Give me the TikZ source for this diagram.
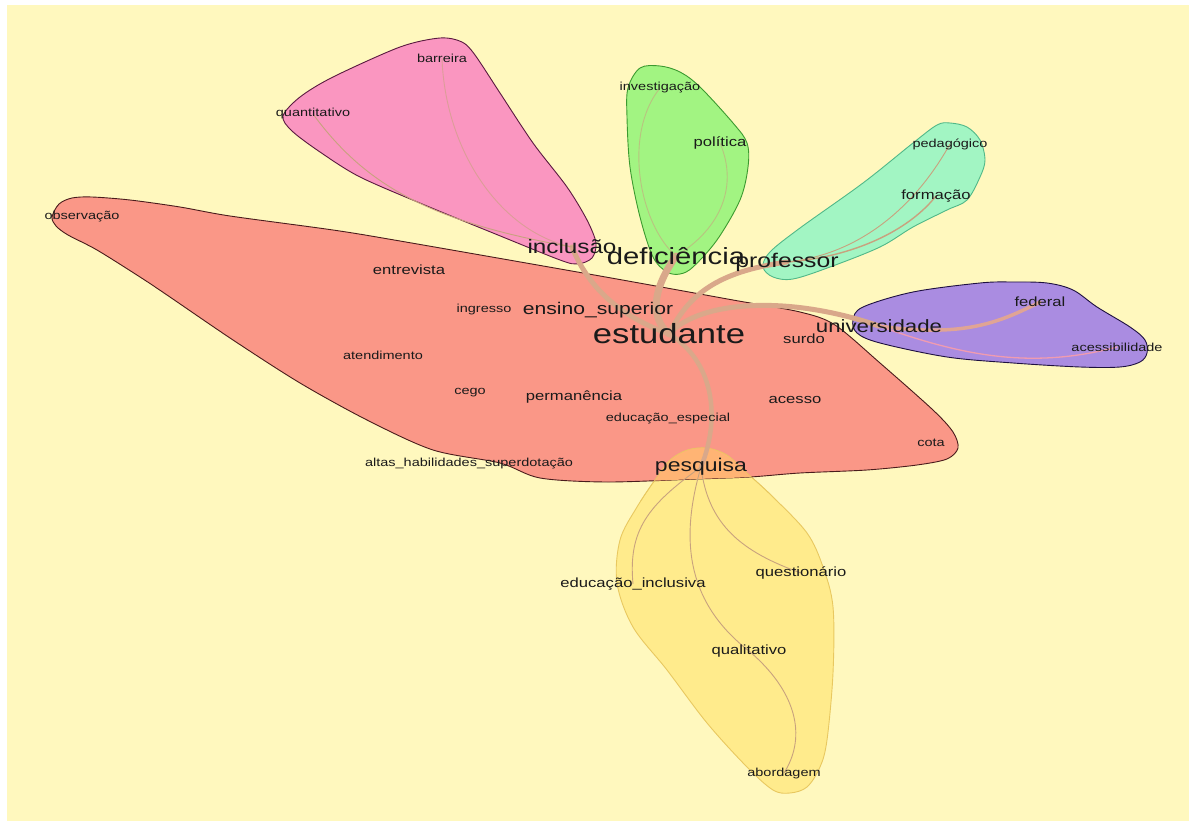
\documentclass[tikz,border=0pt]{standalone}
\usepackage{fontspec}
\setmainfont{Liberation Sans}[FakeStretch=1.25]
\definecolor{bgyel}{HTML}{FFF8BE}
\definecolor{redfill}{HTML}{FA9787}
\definecolor{redline}{HTML}{4A1C1C}
\definecolor{pinkfill}{HTML}{FA96C0}
\definecolor{pinkline}{HTML}{5A1A40}
\definecolor{greenfill}{HTML}{A2F482}
\definecolor{greenline}{HTML}{3C9A30}
\definecolor{mintfill}{HTML}{A2F5C3}
\definecolor{mintline}{HTML}{50B888}
\definecolor{purfill}{HTML}{AA8CE1}
\definecolor{purline}{HTML}{1E1040}
\definecolor{yelfill}{HTML}{FFEB8C}
\definecolor{yelline}{HTML}{E8C860}
\definecolor{orafill}{HTML}{FFB474}
\definecolor{edgetan}{HTML}{D9A88A}
\definecolor{thintan}{HTML}{C8A27E}
\definecolor{txt}{HTML}{1A1A1A}
\newcommand\myfs[1]{\fontsize{#1}{#1}\selectfont}
\pgfdeclarelayer{bg}
\pgfdeclarelayer{edges}
\pgfsetlayers{bg,edges,main}
\begin{document}
\begin{tikzpicture}[x=1pt,y=-1pt,
  lbl/.style={inner sep=0pt, text=txt},
  sa/.style={lbl, font=\myfs{11.6}},
  sb/.style={lbl, font=\myfs{13.3}},
  blob/.style={line width=0.9pt},
  thickedge/.style={draw=edgetan, line cap=round},
  thinedge/.style={draw=thintan, line width=0.9pt}]
\useasboundingbox (0,0) rectangle (1189,821);

% ---------------- labels
\node[sa] (observacao) at (82,217) {observação};
\node[sa] (quantitativo) at (313,114) {quantitativo};
\node[sa] (barreira) at (442,58) {barreira};
\node[sa] (investigacao) at (660,88) {investigação};
\node[sb] (politica) at (720,143) {política};
\node[sa] (pedagogico) at (950,144) {pedagógico};
\node[sb] (formacao) at (936,196) {formação};
\node[lbl, font=\myfs{19.4}] (inclusao) at (572,247) {inclusão};
\node[lbl, font=\myfs{23.4}] (deficiencia) at (676,256) {deficiência};
\node[lbl, font=\myfs{19.8}] (professor) at (787,262) {professor};
\node[sb] (entrevista) at (409,270) {entrevista};
\node[sa] (ingresso) at (484,310) {ingresso};
\node[lbl, font=\myfs{16.9}] (ensino) at (598,310) {ensino\_superior};
\node[lbl, font=\myfs{27.7}] (estudante) at (669,334) {estudante};
\node[lbl, font=\myfs{17.8}] (universidade) at (879,326) {universidade};
\node[sb] (federal) at (1040,302) {federal};
\node[sa] (acessibilidade) at (1117,347) {acessibilidade};
\node[sb] (surdo) at (804,339) {surdo};
\node[sa] (atendimento) at (383,355) {atendimento};
\node[sa] (cego) at (470,393) {cego};
\node[sb] (permanencia) at (574,397) {permanência};
\node[sb] (acesso) at (795,400) {acesso};
\node[sa] (educesp) at (668,419) {educação\_especial};
\node[sa] (cota) at (931,443) {cota};
\node[sa] (altas) at (469,464) {altas\_habilidades\_superdotação};
\node[lbl, font=\myfs{18.4}] (pesquisa) at (701,467) {pesquisa};
\node[sb] (educinc) at (633,584) {educação\_inclusiva};
\node[sb] (questionario) at (801,573) {questionário};
\node[sb] (qualitativo) at (749,651) {qualitativo};
\node[sa] (abordagem) at (784,773) {abordagem};

% ---------------- background and blobs
\begin{pgfonlayer}{bg}
\fill[white] (0,0) rectangle (1189,821);
\fill[bgyel] (7,5) rectangle (1189,821);
\path[save path=\redp] plot[smooth cycle, tension=0.5] coordinates {
 (52,217) (59,204) (72,198) (92,197) (130,200) (180,207) (230,216) (333,230) (400,241) (600,276)
 (733,300) (800,312) (835,325) (880,363) (933,410) (953,432) (958,448) (947,459)
 (917,465) (867,470) (800,473) (750,477) (697,479) (607,482) (540,478) (500,463)
 (433,450) (367,420) (300,383) (233,340) (167,295) (140,277) (97,250) (68,235) (56,226)};
\path[save path=\yelp] plot[smooth cycle, tension=0.55] coordinates {
 (687,450) (707,448) (727,455) (747,473) (773,497) (807,533) (823,567) (833,607)
 (833,673) (827,740) (820,767) (807,787) (790,793) (773,790) (747,767) (707,723)
 (667,670) (633,627) (617,583) (620,540) (637,507) (657,477) (670,460)};
\fill[yelfill, draw=yelline, blob, use path=\yelp];
\fill[redfill, draw=redline, blob, use path=\redp];
\begin{scope}
 \clip[use path=\redp];
 \fill[orafill, use path=\yelp];
\end{scope}
\begin{scope}
 \clip (600,440) rectangle (840,500);
 \draw[yelline, line width=0.6pt, use path=\yelp];
\end{scope}
% pink
\fill[pinkfill, draw=pinkline, blob] plot[smooth cycle, tension=0.5] coordinates {
 (283,116) (300,97) (333,77) (400,47) (440,38) (462,42) (475,55) (500,93)
 (533,143) (567,187) (587,220) (596,243) (592,258) (578,264) (560,260)
 (493,233) (427,206) (360,177) (320,152) (292,131)};
% green
\fill[greenfill, draw=greenline, blob] plot[smooth cycle, tension=0.55] coordinates {
 (640,68) (660,66) (680,72) (700,87) (733,123) (747,143) (748,167) (740,200)
 (717,240) (693,267) (680,274) (667,272) (653,257) (640,217) (630,167)
 (627,117) (628,88)};
% mint
\fill[mintfill, draw=mintline, blob] plot[smooth cycle, tension=0.55] coordinates {
 (950,123) (967,127) (980,140) (985,160) (980,177) (967,200) (947,210)
 (913,227) (880,247) (830,267) (793,279) (773,277) (763,267) (770,252)
 (800,228) (863,183) (913,143) (937,125)};
% purple
\fill[purfill, draw=purline, blob] plot[smooth cycle, tension=0.55] coordinates {
 (863,307) (913,292) (980,283) (1013,282) (1047,283) (1073,290) (1097,307)
 (1130,327) (1145,340) (1147,353) (1140,362) (1120,367) (1080,367) (1013,363)
 (947,357) (880,343) (857,333) (853,320)};
\end{pgfonlayer}

% ---------------- connectors
\begin{pgfonlayer}{edges}
% thick ones from estudante
\draw[thickedge, line width=5pt] (estudante.center) .. controls (625,318) and (590,292) .. (inclusao.center);
\draw[thickedge, line width=7pt] (estudante.center) .. controls (650,318) and (652,290) .. (deficiencia.center);
\draw[thickedge, line width=5pt] (estudante.center) .. controls (688,296) and (715,272) .. (professor.center);
\draw[thickedge, line width=5pt] (estudante.center) .. controls (700,300) and (790,295) .. (universidade.center);
\draw[thickedge, line width=4.5pt] (estudante.center) .. controls (712,360) and (722,415) .. (pesquisa.center);
\draw[thickedge, line width=3.5pt, draw=edgetan!80!pinkfill] (universidade.center) .. controls (965,338) and (1000,322) .. (federal.center);
\draw[line width=1.3pt, draw=pinkfill!70!edgetan] (universidade.center) .. controls (960,355) and (1030,370) .. (acessibilidade.center);
% inclusão cluster
\draw[thinedge, draw=thintan!60!pinkfill] (barreira.center) .. controls (445,150) and (500,232) .. (inclusao.center);
\draw[thinedge] (quantitativo.center) .. controls (365,185) and (430,222) .. (inclusao.center);
% deficiência cluster
\draw[thinedge, draw=thintan!60!greenfill] (deficiencia.center) .. controls (640,225) and (622,135) .. (investigacao.center);
\draw[thinedge, draw=thintan!60!greenfill] (deficiencia.center) .. controls (722,228) and (738,185) .. (politica.center);
% professor cluster
\draw[thinedge] (professor.center) .. controls (855,255) and (912,212) .. (pedagogico.center);
\draw[thinedge, line width=1.4pt] (professor.center) .. controls (845,258) and (905,235) .. (formacao.center);
% pesquisa cluster
\draw[thinedge] (pesquisa.center) .. controls (648,505) and (628,530) .. (educinc.center);
\draw[thinedge] (pesquisa.center) .. controls (678,545) and (690,605) .. (qualitativo.center);
\draw[thinedge] (qualitativo.center) .. controls (795,690) and (808,735) .. (abordagem.center);
\draw[thinedge] (pesquisa.center) .. controls (708,525) and (742,552) .. (questionario.center);
\end{pgfonlayer}
\end{tikzpicture}
\end{document}
